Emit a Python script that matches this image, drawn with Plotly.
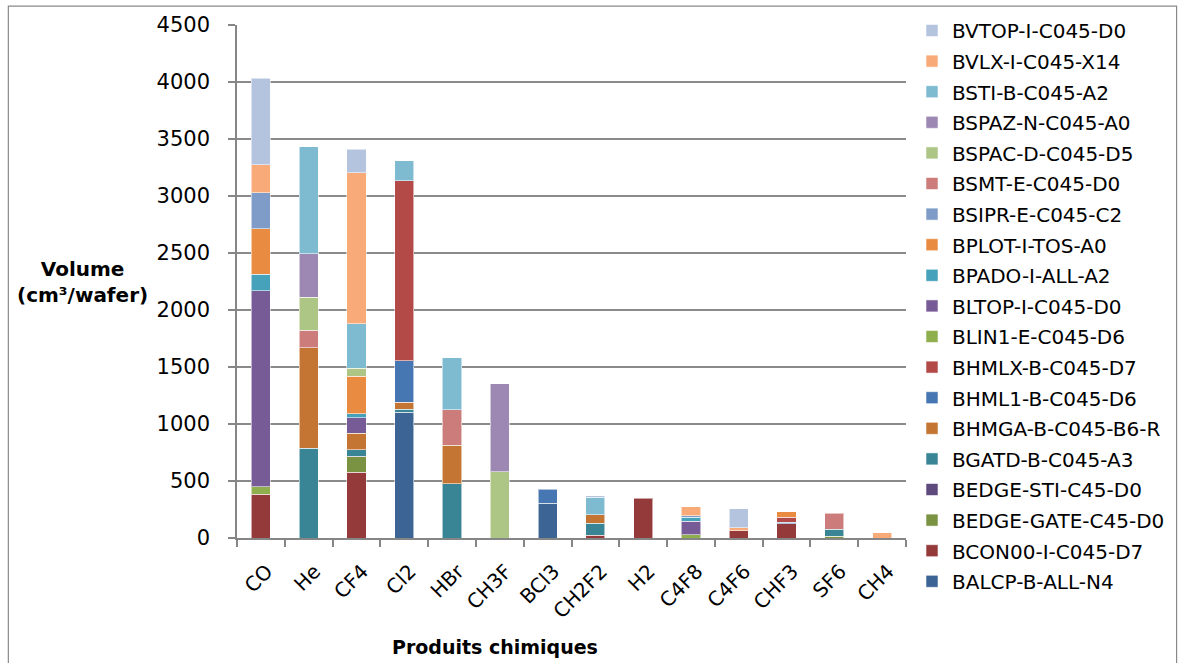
import plotly.graph_objects as go

categories = ["CO", "He", "CF4", "Cl2", "HBr", "CH3F", "BCl3", "CH2F2", "H2", "C4F8", "C4F6", "CHF3", "SF6", "CH4"]

# series listed bottom -> top of the stack
series_names = [
    "BALCP-B-ALL-N4", "BCON00-I-C045-D7", "BEDGE-GATE-C45-D0", "BEDGE-STI-C45-D0",
    "BGATD-B-C045-A3", "BHMGA-B-C045-B6-R", "BHML1-B-C045-D6", "BHMLX-B-C045-D7",
    "BLIN1-E-C045-D6", "BLTOP-I-C045-D0", "BPADO-I-ALL-A2", "BPLOT-I-TOS-A0",
    "BSIPR-E-C045-C2", "BSMT-E-C045-D0", "BSPAC-D-C045-D5", "BSPAZ-N-C045-A0",
    "BSTI-B-C045-A2", "BVLX-I-C045-X14", "BVTOP-I-C045-D0",
]

#                  CO    He   CF4   Cl2   HBr  CH3F BCl3 CH2F2 H2  C4F8 C4F6 CHF3 SF6 CH4
BALCP      = [      0,    0,    0, 1102,    0,    0, 303,   0,   0,   0,   0,   0,   0,  0]
BCON00     = [    384,    0,  577,    0,    0,    0,   0,  26, 347,   0,  65, 125,   0,  0]
BEDGE_GATE = [      0,    0,  135,    0,    0,    0,   0,   0,   0,   0,   0,   0,  17,  0]
BEDGE_STI  = [      0,    0,    6,    0,    0,    0,   0,   0,   0,   0,   0,   0,   0,  0]
BGATD      = [      0,  788,   57,   29,  476,    0,   0, 103,   0,   0,   0,   0,  59,  0]
BHMGA      = [      0,  879,  146,   62,  336,    0,   0,  74,   0,   0,   0,   0,   0,  0]
BHML1      = [      0,    0,    0,  363,    0,    0, 126,   0,   0,   0,   0,  15,   0,  0]
BHMLX      = [      0,    0,    0, 1576,    0,    0,   0,   0,   0,   0,   0,  40,   0,  0]
BLIN1      = [     67,    0,    0,    0,    0,    0,   0,   0,   0,  29,   0,   0,   0,  0]
BLTOP      = [   1720,    0,  132,    0,    0,    0,   0,   0,   0, 116,   0,   0,   0,  0]
BPADO      = [    144,    0,   38,    0,    0,    0,   0,   0,   0,  38,   0,   0,   0,  0]
BPLOT      = [    398,    0,  328,    0,    0,    0,   0,   0,   0,   0,   0,  50,   0,  0]
BSIPR      = [    314,    0,    0,    0,    0,    0,   0,   0,   0,  12,   0,   0,   0,  0]
BSMT       = [      0,  155,    0,    0,  314,    0,   0,   0,   0,   0,   0,   0, 139,  0]
BSPAC      = [      0,  288,   70,    0,    0,  582,   0,   0,   0,   0,   0,   0,   0,  0]
BSPAZ      = [      0,  383,    0,    0,    0,  771,   0,   0,   0,   0,   0,   0,   0,  0]
BSTI       = [      0,  938,  390,  176,  456,    0,   0, 153,   0,   0,   0,   0,   0,  0]
BVLX       = [    246,    0, 1324,    0,    0,    0,   0,   0,   0,  78,  26,   0,   0, 47]
BVTOP      = [    759,    0,  206,    0,    0,    0,   0,  15,   0,   0, 166,   0,   0,  0]

series_values = [BALCP, BCON00, BEDGE_GATE, BEDGE_STI, BGATD, BHMGA, BHML1, BHMLX,
                 BLIN1, BLTOP, BPADO, BPLOT, BSIPR, BSMT, BSPAC, BSPAZ, BSTI, BVLX, BVTOP]

series_colors = [
    "#3C6495", "#953A3A", "#7A9343", "#5E4A7D", "#398596", "#C47533", "#4677B3", "#B44A48",
    "#8FAF4F", "#775B96", "#46A1BA", "#E98C41", "#7F9CC8", "#CC7C7B", "#ADC585", "#9C88B3",
    "#7FBBD0", "#F8AB78", "#B4C3DE",
]

yticks = [0, 500, 1000, 1500, 2000, 2500, 3000, 3500, 4000, 4500]

FONT = "DejaVu Sans"

fig = go.Figure()
n = len(series_names)
for i, (name, vals, col) in enumerate(zip(series_names, series_values, series_colors)):
    fig.add_trace(go.Bar(
        x=categories,
        y=[v if v else None for v in vals],
        name=name,
        legendgroup=name,
        legendrank=1000 + (n - i),
        marker=dict(color=col, line=dict(color="rgba(255,255,255,0.55)", width=1)),
    ))

W, H = 1181, 663
L, R, T, B = 237, 907, 24, 538
pw, ph = R - L, B - T

fig.update_layout(
    width=W, height=H,
    barmode="stack",
    bargap=0.6,
    paper_bgcolor="white",
    plot_bgcolor="white",
    margin=dict(l=L, r=W - R, t=T, b=H - B, pad=0),
    font=dict(family=FONT, size=20, color="#000000"),
    showlegend=True,
    legend=dict(
        x=1.0 + (912 - R) / pw, xanchor="left",
        y=1.0 + (T - 11) / ph, yanchor="top",
        traceorder="grouped",
        tracegroupgap=1.6,
        maxheight=640,
        font=dict(family=FONT, size=20, color="#000000"),
        itemwidth=30,
        bgcolor="rgba(0,0,0,0)",
    ),
    xaxis=dict(
        type="category",
        showline=True, linecolor="#868686", linewidth=1.5,
        ticks="outside", tickson="boundaries", ticklen=7, tickcolor="#868686", tickwidth=1.5,
        tickangle=-45,
        ticklabelstandoff=12,
        ticklabelshift=6,
        tickfont=dict(family=FONT, size=20, color="#000000"),
        showgrid=False,
    ),
    yaxis=dict(
        range=[0, 4500],
        tickvals=yticks,
        ticktext=[str(v) for v in yticks],
        showline=True, linecolor="#868686", linewidth=1.5,
        ticks="outside", ticklen=7, tickcolor="#868686", tickwidth=1.5,
        ticklabelstandoff=14,
        showgrid=True, gridcolor="#8A8A8A", gridwidth=1.6,
        tickfont=dict(family=FONT, size=21, color="#000000"),
        zeroline=False,
    ),
    annotations=[
        dict(text="<b>Volume</b><br><b>(cm³/wafer)</b>", xref="paper", yref="paper",
             x=(82 - L) / pw, y=(B - 282) / ph, xanchor="center", yanchor="middle",
             showarrow=False, font=dict(family=FONT, size=20, color="#000000")),
        dict(text="<b>Produits chimiques</b>", xref="paper", yref="paper",
             x=(495 - L) / pw, y=(B - 647) / ph, xanchor="center", yanchor="middle",
             showarrow=False, font=dict(family=FONT, size=19, color="#000000")),
    ],
    shapes=[
        dict(type="rect", xref="paper", yref="paper",
             x0=(8 - L) / pw, x1=(1178 - L) / pw,
             y0=(B - 700) / ph, y1=(B - 5) / ph,
             line=dict(color="#898989", width=1.2), fillcolor="rgba(0,0,0,0)", layer="below"),
    ],
)

fig.write_html(
    "out.html",
    include_plotlyjs=True,
    config={"displayModeBar": False},
    post_script="document.body.style.margin='0px';document.body.style.overflow='hidden';",
)
